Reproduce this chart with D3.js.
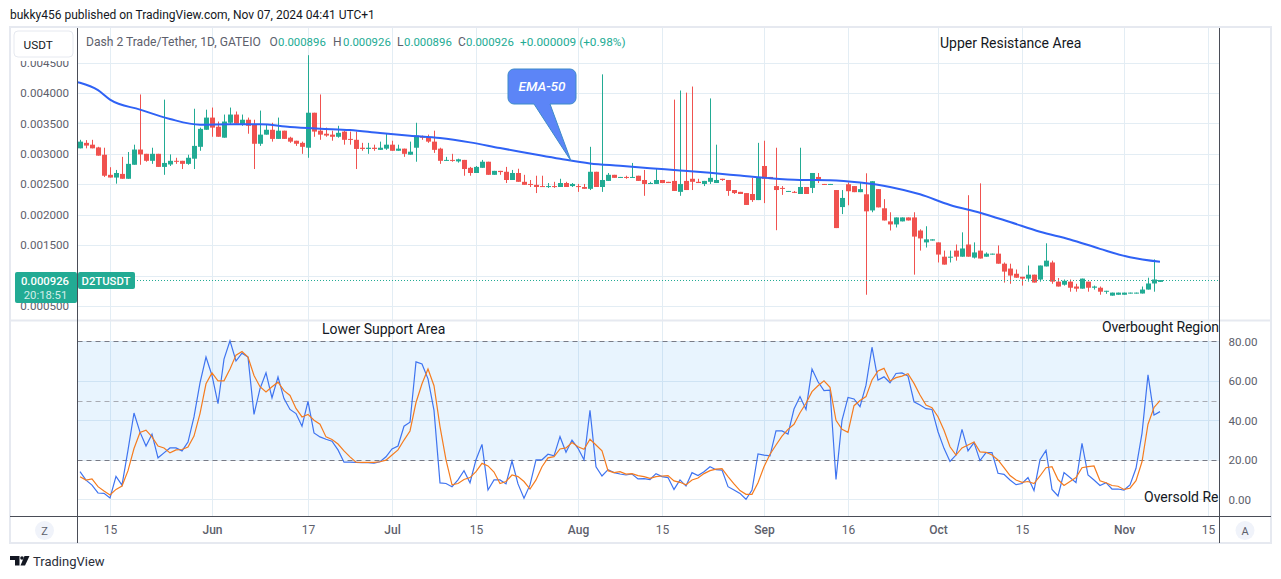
<!DOCTYPE html>
<html>
<head>
<meta charset="utf-8">
<script src="https://cdn.jsdelivr.net/npm/d3@7/dist/d3.min.js"></script>
<style>
  html, body { margin: 0; background: #fff; }
  svg { display: block; }
  text { font-family: Roboto, "Noto Sans", sans-serif; }
</style>
</head>
<body>
<div id="chart"></div>
<script>
// prices are in millionths of a USDT, one entry per daily bar
const opens = [
  3090,3180,3150,3105,2985,2655,2610,2670,2590,2820,
  3070,3000,2885,3000,2785,2825,2885,2885,2835,2920,
  3115,3395,3595,3445,3265,3510,3645,3480,3560,3480,
  3165,3315,3395,3245,3380,3265,3215,3180,3100,3675,
  3380,3330,3315,3280,3365,3245,3230,3100,3080,3100,
  3065,3085,3150,3050,3085,2985,3100,3280,3265,3200,
  3085,2885,2900,2875,2900,2770,2685,2770,2870,2655,
  2720,2705,2570,2685,2540,2505,2490,2470,2455,2470,
  2455,2520,2470,2470,2455,2425,2705,2455,2555,2655,
  2605,2620,2605,2640,2570,2505,2505,2570,2540,2555,
  2375,2555,2590,2540,2505,2540,2520,2590,2570,2405,
  2375,2355,2340,2240,2800,2620,2470,2440,2375,2375,
  2340,2455,2440,2620,2505,2490,2405,2125,2500,2470,
  2370,2335,2070,2420,2105,1890,1840,1890,1955,1955,
  1740,1545,1575,1545,1310,1295,1410,1310,1510,1295,
  1410,1310,1345,1360,1195,1115,1030,980,950,1015,
  935,1150,1215,900,850,900,820,785,900,800,
  800,735,670,685,685,705,705,705,770,870,896
];
const highs = [
  3230,3225,3230,3115,3100,2780,2735,2950,3030,3150,
  3975,3000,3100,3000,3890,2990,2935,2885,2985,3740,
  3430,3725,3760,3530,3645,3760,3695,3645,3595,3560,
  3710,3480,3510,3595,3380,3280,3215,3200,4620,3675,
  3975,3430,3380,3460,3380,3365,3365,3180,3180,3150,
  3200,3330,3215,3150,3085,3200,3510,3300,3315,3380,
  3100,2950,3000,2920,2900,2785,2800,2900,2870,2720,
  2720,2785,2735,2755,2655,2570,2640,2640,2520,2540,
  2590,2540,2520,2505,2505,3115,2705,4305,2685,2655,
  2620,2640,2850,2640,2735,2540,2755,2570,2540,3890,
  4040,4005,4105,2590,2555,3910,3150,2590,2570,2405,
  2375,2355,2605,3180,3215,2620,3100,2470,2390,2390,
  3100,2455,2685,2685,2505,2505,2405,2405,2530,2470,
  2535,2680,2550,2420,2255,2040,1955,1955,1955,2040,
  1760,1810,1595,1545,1410,1410,1510,1710,2320,1545,
  2515,1380,1360,1495,1215,1195,1100,980,1165,1015,
  1165,1530,1245,960,935,935,865,950,900,835,
  820,750,720,720,720,720,720,820,965,1265,926
];
const lows = [
  3090,3090,3090,2970,2620,2610,2510,2590,2590,2820,
  2820,2870,2835,2785,2655,2800,2835,2750,2820,2750,
  3050,3395,3280,3280,3265,3480,3495,3460,3330,2750,
  3130,3315,3200,3245,3245,3180,3130,3000,2935,3280,
  3230,3280,3215,3265,3150,3150,2750,3050,3000,3050,
  3065,3065,3050,3050,2950,2985,2870,3230,3180,3015,
  2835,2885,2870,2855,2640,2640,2685,2770,2655,2655,
  2655,2520,2570,2540,2490,2455,2355,2455,2440,2440,
  2455,2455,2455,2375,2425,2405,2455,2375,2555,2605,
  2605,2590,2605,2555,2310,2505,2505,2520,2520,2390,
  2310,2405,2405,2520,2470,2505,2520,2555,2310,2340,
  2340,2160,2210,2240,2190,2590,1745,2325,2375,2355,
  2340,2340,2355,2520,2490,2490,1780,2010,2155,2370,
  2370,685,2040,2120,1905,1740,1790,1890,1905,1015,
  1410,1460,1575,1215,1180,1215,1245,1310,1310,1280,
  1280,1310,1345,1195,885,865,965,835,900,885,
  900,1150,865,820,835,735,735,785,735,770,
  685,700,670,685,685,705,705,705,770,735,896
];
const closes = [
  3200,3135,3090,2970,2640,2610,2685,2590,2835,3070,
  2990,2885,3000,2785,2850,2885,2870,2835,2935,3130,
  3410,3595,3430,3280,3530,3645,3495,3560,3460,3165,
  3315,3395,3245,3380,3245,3200,3165,3115,3675,3365,
  3315,3300,3280,3345,3230,3230,3080,3080,3100,3080,
  3100,3150,3050,3085,3000,3035,3300,3265,3200,3065,
  2885,2900,2885,2910,2750,2685,2785,2870,2655,2720,
  2700,2570,2685,2540,2490,2490,2455,2455,2470,2455,
  2520,2455,2505,2455,2425,2705,2455,2570,2655,2605,
  2620,2605,2620,2555,2505,2520,2570,2520,2520,2390,
  2505,2405,2540,2520,2555,2605,2570,2570,2390,2355,
  2340,2160,2240,2620,2590,2590,2405,2425,2390,2360,
  2455,2340,2685,2570,2490,2505,1780,2275,2385,2370,
  2420,2055,2550,2120,1905,1840,1955,1955,1905,1640,
  1610,1595,1595,1345,1180,1310,1310,1445,1310,1380,
  1280,1360,1360,1195,1065,1000,965,950,1015,885,
  1165,1245,900,820,915,800,785,950,800,820,
  735,750,720,720,720,720,720,770,870,935,926
];
const emaBars = [-1,0,3,5,10,15,20,25,30,35,40,45,50,55,60,65,70,75,80,85,90,95,100,105,110,115,120,125,130,135,140,145,150,155,160,165,170,175,180];
const emaValues = [4190,4166,4045,3891,3726,3572,3478,3484,3484,3440,3412,3390,3340,3297,3259,3188,3094,3006,2918,2841,2803,2764,2726,2687,2643,2599,2571,2565,2528,2456,2335,2160,2033,1879,1720,1593,1439,1300,1225];

const rsi = [
  14,9.7,7.2,3.2,3,0.7,11.6,7.2,24.9,43.7,
  34,27,33,21,23.5,26,26,24.5,29,41.7,
  59,72,62.7,48.4,71,80.3,70,74,72,43,
  56,64,51.4,62,51,45.5,43.4,37,49.6,33.6,
  31.6,30.4,29.4,25,18.8,18.8,18.7,18.5,18.5,18.3,
  19,21.5,25.5,27,37,39,69.6,68.5,61,45,
  8.3,8,6.4,9.8,14.5,8.4,20,27.8,4.7,9.8,
  9.8,7.8,19.4,7.8,0.5,7.3,20,20,22.8,22,
  31.7,23.8,30,25.8,20,45,16.4,11.8,15,13.5,
  12.8,12.3,12.8,10.3,10.5,10,13,11.5,11,5,
  9.8,6.7,13.5,12,14,16.5,15,14.8,6.4,4.7,
  3,0,4.7,23,22.4,22,34.6,34.6,33,45.7,
  52,45.5,66,59.5,55,55.3,10,40,51.6,50.8,
  46.9,57.8,77,60.4,62,59,63.7,64,62.4,49.4,
  47.7,45.9,45.5,34.2,25.8,19.2,22.4,35.4,24.5,28.7,
  19.6,23.6,23.6,13.2,12.6,9.8,7.4,8,11,4.4,
  20,24.8,5,1.7,13.5,11,8.4,28.3,12.3,9.8,
  7,8.4,5.2,5.2,4.7,7.3,15.7,33.4,63,42.7,44.4
];
const rsiMa = [
  11.4,9.7,10.3,6.4,4.2,2.2,5,6.7,14.5,25.7,
  33.8,35,31.6,27,26,23.5,25,25.2,26.5,32,
  43.4,58.5,64,60,60,66,73,74.8,72,62.7,
  57,54.3,57,59.3,55,52.6,46,41.7,43,40,
  38,31.6,30.3,28,24.5,21.5,18.8,18.7,18.7,18.7,
  19,19.8,22.4,25,30,34.6,49,58.5,66,57.5,
  36.8,20,7.3,8,10,11,14,18.2,16.9,13.8,
  8,9,12.3,11.5,9,5.2,9.8,16.5,21,21.6,
  25.5,26,28.7,26.6,25.3,30.4,27.5,24.5,14.5,13.5,
  14,12.8,13,12,11.5,10.6,11.5,11.8,12,9.3,
  8.6,7.3,9.8,10.8,13,14.5,15.3,15.5,11.5,7.8,
  4.4,2.5,2.5,8.4,16.5,22.8,27.5,32,35.4,38,
  43.8,48.6,54.5,57.5,60,56.7,40,35.4,33.9,47.4,
  50,52,60.4,65,66.3,59.9,61.6,62.4,63.6,58.7,
  52.8,47.7,46.4,41.8,35,26.6,22.4,26,27.5,29,
  24,23.8,22.4,19.9,16,12,9.8,8.6,9,8,
  11.8,16,16.5,10,7,9,11,16,16.5,16.9,
  9.4,8.4,7,6.6,5,5.6,9.4,19,38,46.5,50
];

const timeTickBars = [5,22,38,52,66,83,97,114,128,143,157,174,188];
const timeTickLabels = ['15','Jun','17','Jul','15','Aug','15','Sep','16','Oct','15','Nov','15'];
const priceTicks = [0.0045,0.004,0.0035,0.003,0.0025,0.002,0.0015,0.001,0.0005];
const rsiTicks = [80,60,40,20,0];
const lastPrice = 0.000926;

const UP = '#22ab94', DOWN = '#f0524f', TEXT = '#5d606b', GRID = '#e3edf4', FRAME = '#e6e9f0', AXIS = '#4a4d57';
const L = 77.5, R = 1219.5, PANE_SPLIT = 320.5, AXIS_Y = 516.5;

const svg = d3.select('#chart').append('svg').attr('width', 1281).attr('height', 579);
const defs = svg.append('defs');
defs.append('clipPath').attr('id', 'price-clip').append('rect')
  .attr('x', L).attr('y', 28).attr('width', R - L).attr('height', PANE_SPLIT - 28);
defs.append('clipPath').attr('id', 'rsi-clip').append('rect')
  .attr('x', L).attr('y', PANE_SPLIT).attr('width', R - L).attr('height', AXIS_Y - PANE_SPLIT);
defs.append('clipPath').attr('id', 'label-clip').append('rect')
  .attr('x', 10).attr('y', 61).attr('width', 68).attr('height', PANE_SPLIT - 61);

const x = d3.scaleLinear().domain([0, 188]).range([80, 1208]);
const y = d3.scaleLinear().domain([0.0005, 0.0045]).range([306, 62.5]);
const yRsi = d3.scaleLinear().domain([0, 80]).range([499.3, 341.3]);
const px = v => v / 1e6;

// frame
svg.append('text').attr('x', 10).attr('y', 19).attr('font-size', 12).attr('fill', '#131722')
  .text('bukky456 published on TradingView.com, Nov 07, 2024 04:41 UTC+1');
svg.append('rect').attr('x', 10).attr('y', 27).attr('width', 1261).attr('height', 516)
  .attr('fill', '#fff').attr('stroke', FRAME).attr('stroke-width', 2);

// grids
const grid = svg.append('g').attr('stroke', GRID).attr('stroke-width', 1);
grid.selectAll('.gv').data(timeTickBars).join('line')
  .attr('x1', d => x(d) + 0.5).attr('x2', d => x(d) + 0.5).attr('y1', 28).attr('y2', AXIS_Y);
grid.selectAll('.gp').data(priceTicks).join('line')
  .attr('x1', L).attr('x2', R).attr('y1', d => Math.round(y(d)) + 0.5).attr('y2', d => Math.round(y(d)) + 0.5);
grid.selectAll('.gr').data(rsiTicks).join('line')
  .attr('x1', L).attr('x2', R).attr('y1', d => Math.round(yRsi(d)) + 0.5).attr('y2', d => Math.round(yRsi(d)) + 0.5);

// rsi band goes over the grid and lets it show through
svg.append('rect').attr('x', L).attr('width', R - L)
  .attr('y', yRsi(80)).attr('height', yRsi(20) - yRsi(80))
  .attr('fill', '#2196f3').attr('fill-opacity', 0.1);

[[80, '#787b86'], [50, '#a8abb3'], [20, '#787b86']].forEach(([level, color]) => {
  svg.append('line').attr('x1', L).attr('x2', R)
    .attr('y1', Math.round(yRsi(level)) + 0.5).attr('y2', Math.round(yRsi(level)) + 0.5)
    .attr('stroke', color).attr('stroke-dasharray', '5 4');
});

// candles
const candles = svg.append('g').attr('clip-path', 'url(#price-clip)')
  .selectAll('g').data(opens).join('g');
candles.append('line')
  .attr('x1', (d, i) => x(i) + 0.5).attr('x2', (d, i) => x(i) + 0.5)
  .attr('y1', (d, i) => y(px(highs[i]))).attr('y2', (d, i) => y(px(lows[i])))
  .attr('stroke', (d, i) => closes[i] >= d ? UP : DOWN).attr('stroke-width', 1);
candles.append('rect')
  .attr('x', (d, i) => x(i) - 2).attr('width', 5)
  .attr('y', (d, i) => y(px(Math.max(d, closes[i]))))
  .attr('height', (d, i) => Math.max(1, Math.abs(y(px(d)) - y(px(closes[i])))))
  .attr('fill', (d, i) => closes[i] >= d ? UP : DOWN);

// ema-50
const emaLine = d3.line().x(d => x(d[0])).y(d => y(px(d[1]))).curve(d3.curveMonotoneX);
svg.append('path').attr('clip-path', 'url(#price-clip)')
  .datum(emaBars.map((b, i) => [b, emaValues[i]]))
  .attr('d', emaLine).attr('fill', 'none').attr('stroke', '#2f62f5').attr('stroke-width', 2);

// last price
svg.append('line').attr('x1', 134).attr('x2', R)
  .attr('y1', Math.round(y(lastPrice)) + 0.5).attr('y2', Math.round(y(lastPrice)) + 0.5)
  .attr('stroke', UP).attr('stroke-dasharray', '1 2');

// rsi lines
const rsiLine = d3.line().x((d, i) => x(i)).y(d => yRsi(d));
const rsiPane = svg.append('g').attr('clip-path', 'url(#rsi-clip)').attr('fill', 'none').attr('stroke-width', 1.2);
rsiPane.append('path').datum(rsi).attr('d', rsiLine).attr('stroke', '#3f74f0');
rsiPane.append('path').datum(rsiMa).attr('d', rsiLine).attr('stroke', '#f57c1f');

// pane separators and axis lines
svg.append('line').attr('x1', 10).attr('x2', 1271).attr('y1', PANE_SPLIT).attr('y2', PANE_SPLIT)
  .attr('stroke', FRAME).attr('stroke-width', 2);
svg.append('line').attr('x1', 10).attr('x2', 1271).attr('y1', AXIS_Y).attr('y2', AXIS_Y).attr('stroke', AXIS);
svg.append('line').attr('x1', L).attr('x2', L).attr('y1', 28).attr('y2', 543).attr('stroke', AXIS);
svg.append('line').attr('x1', R).attr('x2', R).attr('y1', 28).attr('y2', 543).attr('stroke', AXIS);

// axes
function styleAxis(size) {
  return g => {
    g.select('.domain').remove();
    g.selectAll('.tick line').remove();
    g.selectAll('.tick text').attr('fill', TEXT).attr('font-size', size).style('font-family', 'Roboto, sans-serif');
  };
}
svg.append('g').attr('clip-path', 'url(#label-clip)').append('g').attr('transform', 'translate(78,0)')
  .call(d3.axisLeft(y).tickValues(priceTicks).tickFormat(d3.format('.6f')).tickPadding(3))
  .call(styleAxis(11.6));
svg.append('g').attr('transform', `translate(${R},0)`)
  .call(d3.axisRight(yRsi).tickValues(rsiTicks).tickFormat(d3.format('.2f')).tickPadding(3))
  .call(styleAxis(11.6));
svg.append('g').attr('transform', `translate(0,${AXIS_Y})`)
  .call(d3.axisBottom(x).tickValues(timeTickBars).tickFormat((d, i) => timeTickLabels[i]).tickPadding(3))
  .call(styleAxis(12))
  .selectAll('.tick text').attr('font-weight', (d, i) => /[a-z]/.test(timeTickLabels[i]) ? 500 : 400);

// scale mode buttons
[[44.5, 'Z'], [1245, 'A']].forEach(([cx, label]) => {
  svg.append('circle').attr('cx', cx).attr('cy', 530.5).attr('r', 9.5).attr('fill', '#f0f3fa');
  svg.append('text').attr('x', cx).attr('y', 534.5).attr('text-anchor', 'middle')
    .attr('font-size', 11).attr('fill', TEXT).text(label);
});

// currency button
svg.append('rect').attr('x', 14).attr('y', 31).attr('width', 59).attr('height', 26).attr('rx', 4)
  .attr('fill', '#fff').attr('stroke', FRAME);
svg.append('text').attr('x', 23.5).attr('y', 49).attr('font-size', 11.8).attr('fill', '#131722').text('USDT');

// legend
const legendParts = [
  ['Dash 2 Trade/Tether, 1D, GATEIO', 86, TEXT, 12.1],
  ['O', 269.5, TEXT, 12], ['0.000896', 278, UP, 11.4],
  ['H', 333, TEXT, 12], ['0.000926', 343, UP, 11.4],
  ['L', 397, TEXT, 12], ['0.000896', 404, UP, 11.4],
  ['C', 458, TEXT, 12], ['0.000926', 466, UP, 11.4],
  ['+0.000009 (+0.98%)', 520, UP, 11.8]
];
svg.append('g').selectAll('text').data(legendParts).join('text')
  .attr('x', d => d[1]).attr('y', 46).attr('fill', d => d[2]).attr('font-size', d => d[3]).text(d => d[0]);

// drawn annotations
const notes = svg.append('g').attr('font-size', 14).attr('fill', '#131722');
notes.append('text').attr('x', 940).attr('y', 48).text('Upper Resistance Area');
notes.append('text').attr('x', 322).attr('y', 334).text('Lower Support Area');
notes.append('text').attr('x', 1102).attr('y', 332).attr('textLength', 117).text('Overbought Region');
notes.append('text').attr('x', 1144).attr('y', 502).text('Oversold Re');

svg.append('path')
  .attr('d', 'M514,69H570a6,6 0 0 1 6,6V98a6,6 0 0 1 -6,6H550L571,161L534,104H514a6,6 0 0 1 -6,-6V75a6,6 0 0 1 6,-6Z')
  .attr('fill', '#5c85f7').attr('stroke', '#3d8bc9').attr('stroke-width', 1);
svg.append('text').attr('x', 542).attr('y', 91).attr('text-anchor', 'middle').attr('font-size', 13.5)
  .attr('font-style', 'italic').attr('font-weight', 500).attr('fill', '#fff').text('EMA-50');

// last price badges
svg.append('rect').attr('x', 15).attr('y', 272).attr('width', 62).attr('height', 31).attr('rx', 2).attr('fill', UP);
svg.append('rect').attr('x', 78).attr('y', 272).attr('width', 57).attr('height', 17).attr('rx', 2).attr('fill', UP);
svg.append('text').attr('x', 45).attr('y', 285).attr('text-anchor', 'middle').attr('font-size', 11.3)
  .attr('font-weight', 500).attr('fill', '#fff').text('0.000926');
svg.append('text').attr('x', 45.5).attr('y', 299).attr('text-anchor', 'middle').attr('font-size', 11.3)
  .attr('fill', '#d3eee9').text('20:18:51');
svg.append('text').attr('x', 106).attr('y', 285).attr('text-anchor', 'middle').attr('font-size', 11.3)
  .attr('font-weight', 500).attr('fill', '#fff').text('D2TUSDT');

// TradingView mark
const logo = svg.append('g').attr('fill', '#131722');
logo.append('path').attr('d', 'M10,556H19.5V565.5H15V560H10Z');
logo.append('circle').attr('cx', 22).attr('cy', 558).attr('r', 1.8);
logo.append('path').attr('d', 'M24.5,556H29.5L25,565.5H20.5Z');
svg.append('text').attr('x', 33).attr('y', 566).attr('font-size', 13).attr('fill', '#2a2e39').text('TradingView');
</script>
</body>
</html>
